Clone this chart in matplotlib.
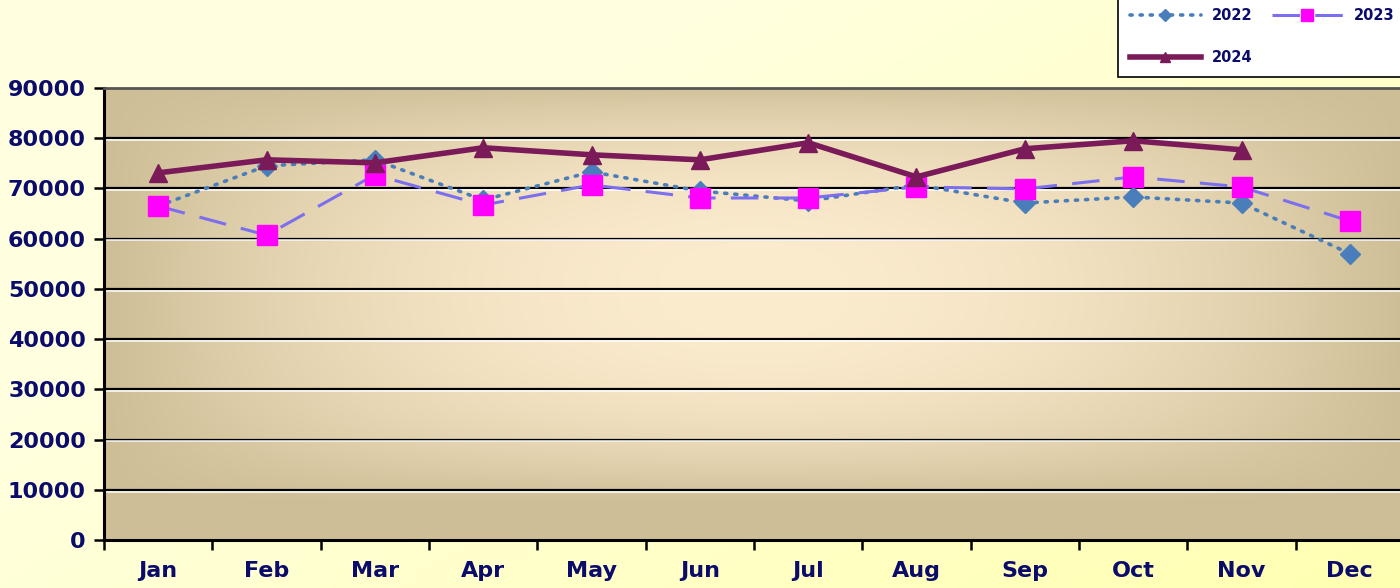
import numpy as np
import matplotlib
matplotlib.use("Agg")
import matplotlib.pyplot as plt

months = ["Jan", "Feb", "Mar", "Apr", "May", "Jun", "Jul", "Aug", "Sep", "Oct", "Nov", "Dec"]
s2022 = [66500, 74500, 75700, 67700, 73300, 69500, 67500, 70700, 67100, 68300, 67100, 57000]
s2023 = [66500, 60700, 72700, 66700, 70700, 68100, 68100, 70300, 69900, 72300, 70300, 63500]
s2024 = [73100, 75700, 75100, 78100, 76700, 75700, 79100, 72300, 77900, 79500, 77700, None]
yticks = list(range(0, 90001, 10000))

navy = "#0B0B6B"
W, H, DPI = 14.0, 5.88, 100
fig = plt.figure(figsize=(W, H), dpi=DPI)

# figure background gradient (light yellow)
bgax = fig.add_axes([0, 0, 1, 1], zorder=-10)
bgax.axis("off")
gx, gy = np.meshgrid(np.linspace(0, 1, 300), np.linspace(0, 1, 120))
t = np.clip(gx * 0.7 + gy * 0.5 - 0.35, 0, 1)
c0 = np.array([255, 255, 224]) / 255
c1 = np.array([255, 255, 170]) / 255
img = c0[None, None, :] * (1 - t[..., None]) + c1[None, None, :] * t[..., None]
bgax.imshow(img, extent=[0, 1, 0, 1], aspect="auto", origin="upper")

left = 104 / 1400
right = 1404 / 1400
bottom = 1 - 540 / 588
top = 1 - 88 / 588
ax = fig.add_axes([left, bottom, right - left, top - bottom])
ax.patch.set_alpha(0)

# plot-area gradient: light cream center, tan edges
nx, ny = 400, 200
xx, yy = np.meshgrid(np.linspace(0, 1, nx), np.linspace(0, 1, ny))
fx = np.clip(np.abs(xx - 0.5) / 0.5, 0, 1) ** 2.0
fy = np.clip(np.abs(yy - 0.55) / 0.47, 0, 1) ** 2.6
tt = np.clip(1 - (1 - fx) * (1 - fy), 0, 1)
cc = np.array([252, 236, 206]) / 255
ce = np.array([206, 190, 150]) / 255
pimg = cc[None, None, :] * (1 - tt[..., None]) + ce[None, None, :] * tt[..., None]
ax.imshow(pimg, extent=[0, 1, 0, 1], transform=ax.transAxes, aspect="auto",
          origin="lower", zorder=0)

x = np.arange(len(months))
ax.set_xlim(-0.5, len(months) - 0.5)
ax.set_ylim(0, 90000)

# gridlines: black with white highlight beneath
for v in yticks[1:-1]:
    ax.axhline(v, color="black", lw=1.6, zorder=1)
    ax.axhline(v - 350, color="white", lw=1.2, alpha=0.9, zorder=1)

l22, = ax.plot(x, s2022, color="#4A7EBB", lw=2.6, ls=(0, (0.6, 2.2)), dash_capstyle="round",
               marker="D", ms=10, mfc="#4A7EBB", mec="#4A7EBB", zorder=3, label="2022")
l23, = ax.plot(x, s2023, color="#7B6FF0", lw=2.2, ls=(0, (9, 5)),
               marker="s", ms=14, mfc="#FF00FF", mec="#FF00FF", zorder=4, label="2023")
y24 = [np.nan if v is None else v for v in s2024]
l24, = ax.plot(x, y24, color="#7A1A58", lw=4, marker="^", ms=13,
               mfc="#7A1A58", mec="#7A1A58", zorder=5, label="2024")

ax.set_yticks(yticks)
ax.set_yticklabels([str(v) for v in yticks])
ax.set_xticks(x)
ax.set_xticklabels(months)
ax.set_xticks(np.arange(-0.5, len(months), 1.0), minor=True)
ax.tick_params(axis="x", which="major", length=0, pad=15)
ax.tick_params(axis="x", which="minor", length=7, width=1.8, color="black")
ax.tick_params(axis="y", length=7, width=1.8, color="black", pad=6)
for lab in ax.get_xticklabels() + ax.get_yticklabels():
    lab.set_fontsize(16)
    lab.set_fontweight("bold")
    lab.set_color(navy)

for s in ["left", "bottom"]:
    ax.spines[s].set_linewidth(2.2)
    ax.spines[s].set_color("black")
ax.spines["top"].set_color("#555555")
ax.spines["top"].set_linewidth(2)
ax.spines["right"].set_visible(False)

leg = fig.legend([l22, l24, l23], ["2022", "2024", "2023"],
                 loc="lower left", bbox_to_anchor=(1118 / 1400, 1 - 77 / 588), ncol=2,
                 frameon=True, fancybox=False, edgecolor="black", facecolor="white",
                 framealpha=1, prop={"weight": "bold", "size": 10.5},
                 handlelength=4.9, handletextpad=0.75, columnspacing=1.3,
                 labelspacing=1.9, borderpad=0.8, borderaxespad=0.0, markerscale=0.6)
leg.get_frame().set_linewidth(1.2)
for txt in leg.get_texts():
    txt.set_color(navy)

fig.savefig("out.png", dpi=DPI)
